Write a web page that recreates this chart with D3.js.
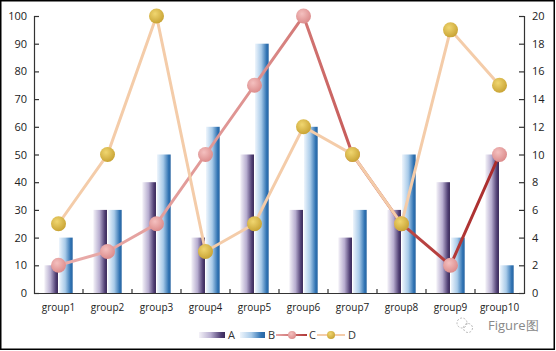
<!DOCTYPE html>
<html>
<head>
<meta charset="utf-8">
<script src="https://cdn.jsdelivr.net/npm/d3@7"></script>
<style>
  body { margin: 0; background: #fff; }
  svg { display: block; font-family: "Open Sans", sans-serif; }
</style>
</head>
<body>
<div id="chart"></div>
<script>
const groups = ["group1", "group2", "group3", "group4", "group5", "group6", "group7", "group8", "group9", "group10"];
const seriesA = [10, 30, 40, 20, 50, 30, 20, 30, 40, 50];
const seriesB = [20, 30, 50, 60, 90, 60, 30, 50, 20, 10];
const seriesC = [2, 3, 5, 10, 15, 20, 10, 5, 2, 10];
const seriesD = [5, 10, 20, 3, 5, 12, 10, 5, 19, 15];
const leftTicks = [0, 10, 20, 30, 40, 50, 60, 70, 80, 90, 100];
const rightTicks = [0, 2, 4, 6, 8, 10, 12, 14, 16, 18, 20];
const legendNames = ["A", "B", "C", "D"];

let width = 556, height = 351;
let plotLeft = 34, plotRight = 524, plotTop = 16, plotBottom = 293;

let svg = d3.select("#chart").append("svg")
    .attr("width", width)
    .attr("height", height);

let defs = svg.append("defs");

function hGrad(id, stops, units, x1, x2) {
    let g = defs.append("linearGradient").attr("id", id);
    if (units) {
        g.attr("gradientUnits", "userSpaceOnUse").attr("x1", x1).attr("x2", x2).attr("y1", 0).attr("y2", 0);
    } else {
        g.attr("x1", "0%").attr("x2", "100%").attr("y1", "0%").attr("y2", "0%");
    }
    stops.forEach(s => g.append("stop").attr("offset", s[0]).attr("stop-color", s[1]));
}
hGrad("gradA", [[0, "#f4f2f8"], [0.45, "#b8aed0"], [0.85, "#4e3d72"], [1, "#3a2a58"]]);
hGrad("gradB", [[0, "#eef5fc"], [0.45, "#a9cbe9"], [0.85, "#2f72b2"], [1, "#2a66a2"]]);
hGrad("gradC", [[0, "#ebb0ae"], [0.45, "#de9290"], [0.65, "#c65a58"], [1, "#a42222"]], true, plotLeft, plotRight);
hGrad("gradCleg", [[0, "#e8a8a8"], [1, "#b03838"]], true, 276, 307);

function rGrad(id, c1, c2) {
    let g = defs.append("radialGradient").attr("id", id).attr("cx", "40%").attr("cy", "35%").attr("r", "65%");
    g.append("stop").attr("offset", 0).attr("stop-color", c1);
    g.append("stop").attr("offset", 1).attr("stop-color", c2);
}
rGrad("dotC", "#f4c0bf", "#dc8c8c");
rGrad("dotD", "#f0d670", "#c9a435");

// outer frame
svg.append("rect")
    .attr("x", 0.75).attr("y", 0.75)
    .attr("width", 553.5).attr("height", 348.5)
    .attr("fill", "none").attr("stroke", "#000").attr("stroke-width", 1.5);

let x = d3.scaleBand().domain(groups).range([plotLeft, plotRight]);
let xSub = d3.scaleBand().domain(["A", "B"]).range([0, x.bandwidth()]).paddingInner(0.07).paddingOuter(0.7);
let yL = d3.scaleLinear().domain([0, 100]).range([plotBottom, plotTop]);
let yR = d3.scaleLinear().domain([0, 20]).range([plotBottom, plotTop]);

// bars
let barData = groups.map((g, i) => [
    { group: g, key: "A", value: seriesA[i] },
    { group: g, key: "B", value: seriesB[i] }
]).flat();

svg.selectAll(".bar")
    .data(barData)
    .enter()
    .append("rect")
    .attr("class", "bar")
    .attr("x", d => x(d.group) + xSub(d.key))
    .attr("y", d => yL(d.value))
    .attr("width", xSub.bandwidth())
    .attr("height", d => plotBottom - yL(d.value))
    .attr("fill", d => d.key === "A" ? "url(#gradA)" : "url(#gradB)");

// axes
let axL = svg.append("g").attr("transform", `translate(${plotLeft},0)`)
    .call(d3.axisLeft(yL).tickValues(leftTicks).tickSizeInner(-5).tickSizeOuter(-5).tickPadding(7));
let axR = svg.append("g").attr("transform", `translate(${plotRight},0)`)
    .call(d3.axisRight(yR).tickValues(rightTicks).tickSizeInner(-5).tickSizeOuter(-5).tickPadding(8));
let axB = svg.append("g").attr("transform", `translate(0,${plotBottom})`)
    .call(d3.axisBottom(x).tickSize(0).tickPadding(11));

svg.selectAll(".domain, .tick line").attr("stroke", "#333").attr("stroke-width", 1.2);
axL.selectAll("text").attr("font-size", 11).attr("fill", "#222");
axR.selectAll("text").attr("font-size", 11).attr("fill", "#222");
axB.selectAll("text").attr("font-size", 10).attr("fill", "#222");
svg.selectAll(".tick text").attr("font-family", "Open Sans, sans-serif");

// x tick marks between groups, pointing up
svg.selectAll(".xsep")
    .data(groups.slice(1))
    .enter()
    .append("line")
    .attr("x1", d => x(d)).attr("x2", d => x(d))
    .attr("y1", plotBottom).attr("y2", plotBottom - 4)
    .attr("stroke", "#333").attr("stroke-width", 1.2);

// lines
let lineFn = d3.line().x((d, i) => x(groups[i]) + x.bandwidth() / 2).y(d => yR(d));

svg.append("path")
    .datum(seriesC)
    .attr("d", lineFn)
    .attr("fill", "none")
    .attr("stroke", "url(#gradC)")
    .attr("stroke-width", 3);

svg.selectAll(".dotC")
    .data(seriesC)
    .enter()
    .append("circle")
    .attr("class", "dotC")
    .attr("cx", (d, i) => x(groups[i]) + x.bandwidth() / 2)
    .attr("cy", d => yR(d))
    .attr("r", 7.5)
    .attr("fill", "url(#dotC)");

svg.append("path")
    .datum(seriesD)
    .attr("d", lineFn)
    .attr("fill", "none")
    .attr("stroke", "#f4cca9")
    .attr("stroke-width", 3);

svg.selectAll(".dotD")
    .data(seriesD)
    .enter()
    .append("circle")
    .attr("class", "dotD")
    .attr("cx", (d, i) => x(groups[i]) + x.bandwidth() / 2)
    .attr("cy", d => yR(d))
    .attr("r", 7.5)
    .attr("fill", "url(#dotD)");

// legend
let ly = 335;
let leg = svg.append("g").attr("font-size", 11).attr("fill", "#333");
leg.append("rect").attr("x", 199).attr("y", ly - 3).attr("width", 26).attr("height", 6).attr("fill", "url(#gradA)");
leg.append("text").attr("x", 228).attr("y", ly + 4).text(legendNames[0]);
leg.append("rect").attr("x", 240).attr("y", ly - 3).attr("width", 25).attr("height", 6).attr("fill", "url(#gradB)");
leg.append("text").attr("x", 268).attr("y", ly + 4).text(legendNames[1]);
leg.append("line").attr("x1", 276).attr("x2", 307).attr("y1", ly).attr("y2", ly)
    .attr("stroke", "url(#gradCleg)").attr("stroke-width", 2);
leg.append("circle").attr("cx", 292).attr("cy", ly).attr("r", 4).attr("fill", "url(#dotC)");
leg.append("text").attr("x", 309).attr("y", ly + 4).text(legendNames[2]);
leg.append("line").attr("x1", 317).attr("x2", 345).attr("y1", ly).attr("y2", ly)
    .attr("stroke", "#f4cca9").attr("stroke-width", 2);
leg.append("circle").attr("cx", 331).attr("cy", ly).attr("r", 4).attr("fill", "url(#dotD)");
leg.append("text").attr("x", 348).attr("y", ly + 4).text(legendNames[3]);

// watermark
let wm = svg.append("g").attr("stroke", "#aaa").attr("fill", "none").attr("stroke-width", 0.8);
wm.append("circle").attr("cx", 462).attr("cy", 323).attr("r", 5).attr("stroke-dasharray", "2,1.5");
wm.append("circle").attr("cx", 468).attr("cy", 328).attr("r", 4.5).attr("stroke-dasharray", "2,1.5");
svg.append("text").attr("x", 488).attr("y", 330)
    .attr("font-size", 13).attr("fill", "#888")
    .text("Figure图");
</script>
</body>
</html>
